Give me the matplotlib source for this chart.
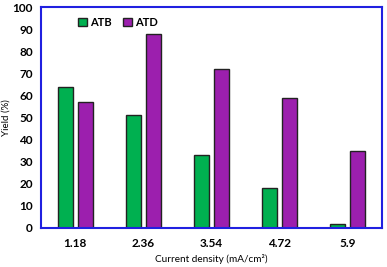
import numpy as np
import matplotlib
matplotlib.use('Agg')
from matplotlib import pyplot as plt

plt.rcParams['font.family'] = ['Lato', 'DejaVu Sans']
plt.rcParams['font.weight'] = 'bold'

densities = ['1.18', '2.36', '3.54', '4.72', '5.9']
atb = [64, 51, 33, 18, 2]
atd = [57, 88, 72, 59, 35]

fig = plt.figure(figsize=(3.87, 2.67), dpi=100)
ax = fig.add_axes([41 / 387, 1 - 228 / 267, 341 / 387, 221 / 267])

x = np.arange(len(densities))
w = 0.22
ax.bar(x - 0.147, atb, w, color='#00B050', edgecolor='#222222', linewidth=1, label='ATB')
ax.bar(x + 0.147, atd, w, color='#9C1FAE', edgecolor='#222222', linewidth=1, label='ATD')

ax.set_xlim(-0.5, 4.5)
ax.set_ylim(0, 100)
ax.set_yticks(range(0, 101, 10))
ax.set_xticks(x)
ax.set_xticklabels(densities)
ax.tick_params(length=0, labelsize=8.5, pad=6)
ax.tick_params(axis='x', pad=7)
for s in ax.spines.values():
    s.set_color('#2020E0')
    s.set_linewidth(1.5)

ax.set_ylabel('Yield (%)', fontsize=7)
ax.yaxis.set_label_coords(-30 / 341, 0.5)
ax.set_xlabel('Current density (mA/cm\u00b2)', fontsize=7.2)
ax.xaxis.set_label_coords(0.5, -26 / 221)

ax.legend(loc='upper left', bbox_to_anchor=(0.08, 1.0), ncol=2, frameon=False,
          fontsize=8, handlelength=0.8, handleheight=0.8, columnspacing=1.0, handletextpad=0.3)

fig.savefig('out.png', dpi=100)
